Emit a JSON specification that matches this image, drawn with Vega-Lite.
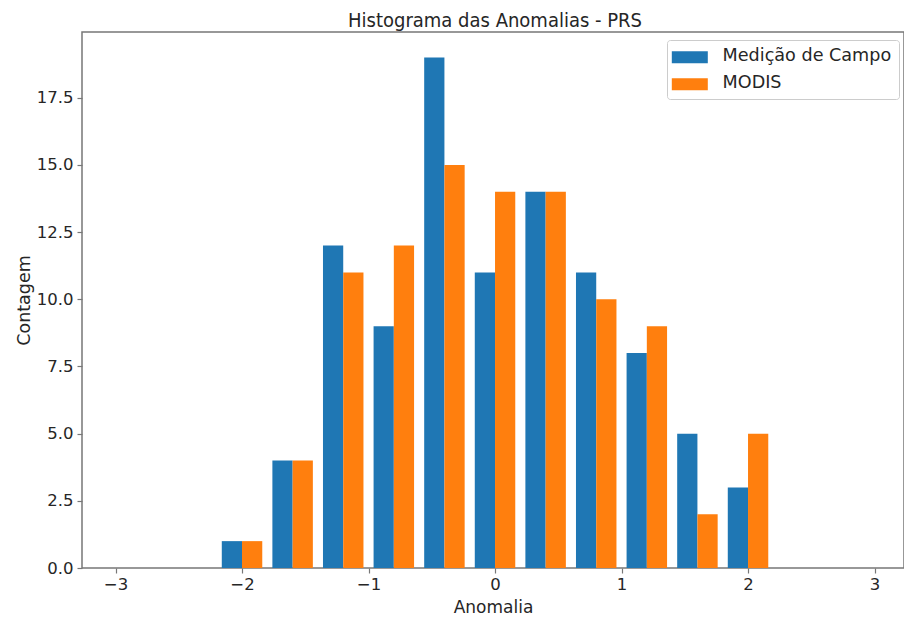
{
  "$schema": "https://vega.github.io/schema/vega-lite/v6.json",
  "width": 822,
  "height": 536,
  "autosize": "none",
  "padding": {"left": 82, "top": 32, "right": 0, "bottom": 49},
  "background": "white",
  "title": {
    "text": "Histograma das Anomalias - PRS",
    "font": "DejaVu Sans Condensed, Liberation Sans Narrow, DejaVu Sans",
    "fontSize": 20,
    "fontWeight": "normal",
    "color": "#262626",
    "baseline": "alphabetic",
    "offset": 5,
    "anchor": "middle",
    "dx": 2,
    "dy": 20
  },
  "config": {
    "view": {"stroke": "#777777", "strokeWidth": 1.5},
    "font": "DejaVu Sans"
  },
  "data": {
    "values": [
      {"serie": "Medição de Campo", "bin_ini": -2.2, "bin_fim": -1.8, "contagem": 1},
      {"serie": "Medição de Campo", "bin_ini": -1.8, "bin_fim": -1.4, "contagem": 4},
      {"serie": "Medição de Campo", "bin_ini": -1.4, "bin_fim": -1.0, "contagem": 12},
      {"serie": "Medição de Campo", "bin_ini": -1.0, "bin_fim": -0.6, "contagem": 9},
      {"serie": "Medição de Campo", "bin_ini": -0.6, "bin_fim": -0.2, "contagem": 19},
      {"serie": "Medição de Campo", "bin_ini": -0.2, "bin_fim": 0.2, "contagem": 11},
      {"serie": "Medição de Campo", "bin_ini": 0.2, "bin_fim": 0.6, "contagem": 14},
      {"serie": "Medição de Campo", "bin_ini": 0.6, "bin_fim": 1.0, "contagem": 11},
      {"serie": "Medição de Campo", "bin_ini": 1.0, "bin_fim": 1.4, "contagem": 8},
      {"serie": "Medição de Campo", "bin_ini": 1.4, "bin_fim": 1.8, "contagem": 5},
      {"serie": "Medição de Campo", "bin_ini": 1.8, "bin_fim": 2.2, "contagem": 3},
      {"serie": "MODIS", "bin_ini": -2.2, "bin_fim": -1.8, "contagem": 1},
      {"serie": "MODIS", "bin_ini": -1.8, "bin_fim": -1.4, "contagem": 4},
      {"serie": "MODIS", "bin_ini": -1.4, "bin_fim": -1.0, "contagem": 11},
      {"serie": "MODIS", "bin_ini": -1.0, "bin_fim": -0.6, "contagem": 12},
      {"serie": "MODIS", "bin_ini": -0.6, "bin_fim": -0.2, "contagem": 15},
      {"serie": "MODIS", "bin_ini": -0.2, "bin_fim": 0.2, "contagem": 14},
      {"serie": "MODIS", "bin_ini": 0.2, "bin_fim": 0.6, "contagem": 14},
      {"serie": "MODIS", "bin_ini": 0.6, "bin_fim": 1.0, "contagem": 10},
      {"serie": "MODIS", "bin_ini": 1.0, "bin_fim": 1.4, "contagem": 9},
      {"serie": "MODIS", "bin_ini": 1.4, "bin_fim": 1.8, "contagem": 2},
      {"serie": "MODIS", "bin_ini": 1.8, "bin_fim": 2.2, "contagem": 5}
    ]
  },
  "encoding": {
    "x": {
      "field": "bin_ini",
      "type": "quantitative",
      "title": "Anomalia",
      "scale": {"domain": [-3.265, 3.233], "nice": false, "zero": false},
      "axis": {
        "values": [-3, -2, -1, 0, 1, 2, 3],
        "grid": false,
        "domain": false,
        "tickSize": 5,
        "tickColor": "#777777",
        "tickWidth": 1.2,
        "labelFontSize": 16.5,
        "labelColor": "#262626",
        "labelPadding": 3,
        "titleFontSize": 17,
        "titleFontWeight": "normal",
        "titleColor": "#262626",
        "titlePadding": 7
      }
    },
    "x2": {"field": "bin_fim"},
    "y": {
      "field": "contagem",
      "type": "quantitative",
      "title": "Contagem",
      "scale": {"domain": [0, 19.95], "nice": false},
      "axis": {
        "values": [0, 2.5, 5, 7.5, 10, 12.5, 15, 17.5],
        "format": ".1f",
        "grid": false,
        "domain": false,
        "tickSize": 5,
        "tickColor": "#777777",
        "tickWidth": 1.2,
        "labelFontSize": 16.5,
        "labelColor": "#262626",
        "labelPadding": 4,
        "titleFontSize": 17.5,
        "titleFontWeight": "normal",
        "titleColor": "#262626",
        "titlePadding": 3
      }
    },
    "y2": {"datum": 0},
    "color": {
      "field": "serie",
      "type": "nominal",
      "scale": {"domain": ["Medição de Campo", "MODIS"], "range": ["#1f77b4", "#ff7f0e"]},
      "legend": {
        "title": null,
        "orient": "none",
        "legendX": 585,
        "legendY": 8,
        "labelFontSize": 17.6,
        "labelColor": "#262626",
        "labelLimit": 400,
        "symbolType": "M-1.833,-0.75H4.167V1.25H-1.833Z",
        "symbolSize": 144,
        "symbolStrokeWidth": 0,
        "symbolOpacity": 1,
        "rowPadding": 8,
        "labelOffset": 31,
        "padding": 7,
        "fillColor": "white",
        "strokeColor": "#cccccc",
        "cornerRadius": 3
      }
    }
  },
  "layer": [
    {
      "transform": [{"filter": "datum.serie === 'Medição de Campo'"}],
      "mark": {"type": "bar", "xOffset": 5.06, "x2Offset": -25.3, "opacity": 1}
    },
    {
      "transform": [{"filter": "datum.serie === 'MODIS'"}],
      "mark": {"type": "bar", "xOffset": 25.3, "x2Offset": -5.06, "opacity": 1}
    }
  ]
}
